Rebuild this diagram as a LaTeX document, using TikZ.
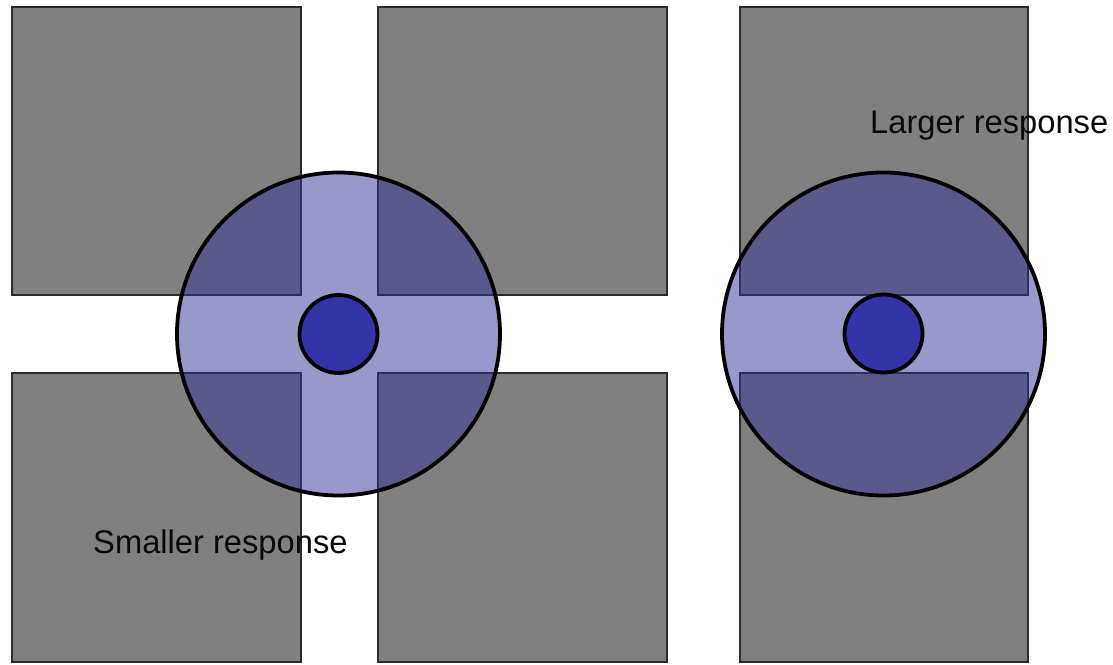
\documentclass[tikz,border=0pt]{standalone}
\usepackage{fontspec}
\setmainfont{Liberation Sans}
\definecolor{grayfill}{HTML}{808080}
\definecolor{rectline}{HTML}{2A2A2A}
\definecolor{ringblue}{HTML}{333399}
\definecolor{coreblue}{HTML}{3434A8}
\definecolor{labelcol}{HTML}{0A0A0A}
\tikzset{
  grayrect/.style={fill=grayfill, draw=rectline, line width=1.5pt},
  bigring/.style={fill=ringblue, fill opacity=0.5, draw=black, draw opacity=1, line width=3.8pt},
  core/.style={fill=coreblue, draw=black, line width=3.8pt},
  lbl/.style={font=\fontsize{32.7}{36}\selectfont, text=labelcol, inner sep=0pt, anchor=base west}
}
\begin{document}
\begin{tikzpicture}[x=1pt,y=-1pt]
\useasboundingbox (0,0) rectangle (1113,664);
\fill[white] (0,0) rectangle (1113,664);
% left group of four squares
\draw[grayrect] (12,7) rectangle (301,295);
\draw[grayrect] (378,7) rectangle (667,295);
\draw[grayrect] (12,373) rectangle (301,662);
\draw[grayrect] (378,373) rectangle (667,662);
% right pair
\draw[grayrect] (740,7) rectangle (1028,295);
\draw[grayrect] (740,373) rectangle (1028,662);
% left receptive field
\draw[bigring] (338.5,334) circle[radius=161.5];
\draw[core] (338.5,334) circle[radius=39];
% right receptive field
\draw[bigring] (883.5,334) circle[radius=161.5];
\draw[core] (883.5,333.5) circle[radius=39];
% labels
\node[lbl] (larger) at (870,133) {Larger response};
\node[lbl] (smaller) at (93,553) {Smaller response};
\end{tikzpicture}
\end{document}
